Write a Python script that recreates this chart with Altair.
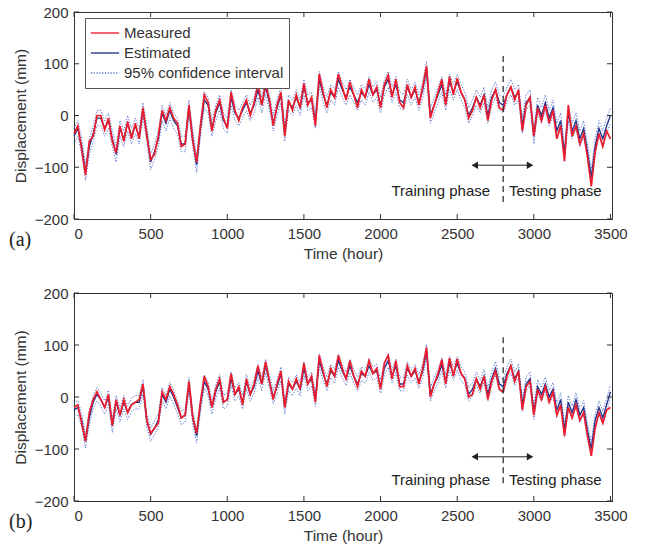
import altair as alt
import pandas as pd

# ---------------- data (25-hour sampling) ----------------
times = list(range(0, 3501, 25))

measured_a = [
    -35, -20, -65, -115, -50, -40, 0, 0, -28, -5, -50, -72, -20, -50, -12, -45, -15, -45, 15, -40,
    -85, -75, -40, 10, -10, 15, -5, -15, -60, -55, 20, -50, -90, -20, 40, 25, -30, 10, 30, -5,
    -25, 45, 10, -10, 15, 30, 0, 25, 60, 20, 62, 30, -20, 20, 45, -40, 30, 10, 40, 15,
    62, 20, 35, -20, 80, 45, 15, 50, 35, 80, 55, 30, 65, 40, 15, 50, 35, 70, 40, 55,
    15, 60, 78, 35, 70, 25, 15, 60, 35, 55, 20, 55, 95, -5, 20, 45, 70, 20, 75, 40,
    72, 45, 30, -5, 10, 35, 15, 40, -10, 30, 50, 15, 10, 40, 55, 30, 50, -30, 20, 35,
    -40, 15, -10, 20, -15, 10, -45, -20, -88, 20, -40, -20, -55, -35, -80, -137, -70, -35, -60, -30,
    -45,
]
estimated_a = [
    -40, -25, -60, -110, -60, -35, -5, -5, -25, -10, -45, -75, -25, -45, -15, -40, -20, -40, 10, -35,
    -90, -70, -45, 5, -15, 10, -10, -20, -55, -55, 15, -45, -95, -25, 30, 20, -25, 5, 25, -10,
    -20, 35, 5, -5, 10, 25, 5, 20, 50, 20, 55, 25, -15, 15, 40, -35, 25, 15, 35, 15,
    55, 25, 30, -10, 70, 40, 20, 45, 35, 70, 50, 35, 55, 40, 25, 45, 35, 60, 40, 50,
    20, 55, 70, 40, 60, 30, 25, 55, 35, 50, 25, 50, 90, 0, 20, 40, 60, 25, 65, 45,
    65, 45, 30, 0, 15, 35, 20, 40, 0, 35, 50, 25, 20, 40, 55, 35, 45, -20, 25, 35,
    -40, 20, 0, 25, -5, 15, -30, -10, -75, 5, -30, -10, -45, -25, -70, -120, -60, -25, -45, -20,
    0,
]
measured_b = [
    -20, -15, -50, -85, -30, -5, 10, -5, -20, 5, -55, -5, -35, -5, -30, -15, -10, -5, 25, -45,
    -70, -60, -50, 10, -5, 20, 5, -15, -40, -35, 30, -40, -70, -10, 40, 20, -20, 15, 35, -10,
    -5, 45, 5, 20, -15, 35, 5, 25, 60, 25, 68, 30, -5, 25, 50, -20, 30, 15, 35, 15,
    65, 25, 40, -10, 80, 50, 20, 55, 40, 80, 55, 35, 70, 40, 20, 50, 40, 70, 45, 55,
    15, 65, 80, 35, 70, 20, 20, 60, 40, 55, 25, 55, 95, 0, 25, 45, 72, 25, 75, 40,
    73, 45, 35, 0, 5, 35, 15, 40, -5, 30, 50, 15, 10, 40, 60, 30, 50, -25, 20, 30,
    -35, 15, -5, 20, -10, 10, -35, -15, -75, -20, -40, -15, -45, -30, -75, -113, -60, -30, -50, -25,
    -20,
]
estimated_b = [
    -25, -20, -45, -85, -40, -10, 5, -5, -20, 0, -55, -10, -35, -10, -30, -15, -10, -10, 20, -45,
    -72, -60, -45, 5, -10, 15, 0, -20, -40, -35, 25, -40, -75, -15, 30, 15, -20, 10, 30, -10,
    -5, 35, 5, 15, -10, 30, 5, 20, 50, 25, 60, 30, 0, 20, 45, -20, 25, 15, 30, 15,
    55, 25, 35, -5, 70, 45, 25, 50, 40, 70, 50, 35, 60, 40, 25, 45, 40, 60, 45, 50,
    20, 55, 70, 40, 60, 25, 25, 55, 40, 50, 30, 50, 88, 5, 25, 40, 62, 30, 65, 45,
    65, 45, 35, 5, 15, 35, 20, 40, 5, 35, 55, 25, 20, 45, 60, 35, 50, -15, 25, 35,
    -30, 20, 5, 25, 0, 15, -25, -5, -65, -10, -30, -5, -35, -20, -65, -100, -45, -20, -40, -15,
    10,
]
ci_half_a = 15   # half-width of the 95% band (mm)
ci_half_b = 13

series_names = ["Measured", "Estimated", "95% confidence interval"]
series_colors = ["#ee1c2a", "#1f3590", "#3f5fc8"]
series_dash = [[1, 0], [1, 0], [1.2, 1.6]]

x_ticks = [0, 500, 1000, 1500, 2000, 2500, 3000, 3500]
y_ticks = [-200, -100, 0, 100, 200]

phase_split = 2800
arrow_ends = [2600, 2990]

FONT = "Liberation Sans"
TXT = "#333333"
W = 538


def panel(measured, estimated, half, H, split_top, split_bottom, arrow_y, text_y, tag):
    df_m = pd.DataFrame({"t": times, "v": measured, "series": "Measured"})
    df_e = pd.DataFrame({"t": times, "v": estimated, "series": "Estimated"})
    df_ci = pd.concat([
        pd.DataFrame({"t": times, "v": [e + half for e in estimated],
                      "series": "95% confidence interval", "bound": "upper"}),
        pd.DataFrame({"t": times, "v": [e - half for e in estimated],
                      "series": "95% confidence interval", "bound": "lower"}),
    ])

    X = alt.X("t:Q", scale=alt.Scale(domain=[0, 3510], nice=False, zero=False),
              axis=alt.Axis(values=x_ticks, title="Time (hour)", format="d"))
    Y = alt.Y("v:Q", scale=alt.Scale(domain=[-200, 200], nice=False),
              axis=alt.Axis(values=y_ticks, title="Displacement (mm)", format="d"))
    leg = alt.Legend(
        title=None, orient="none", legendX=11, legendY=6,
        fillColor="white", strokeColor="#555555", padding=5,
        symbolType="stroke", symbolSize=800, symbolStrokeWidth=1.5,
        labelFont=FONT, labelFontSize=15, labelColor=TXT, labelOffset=4,
        clipHeight=20, rowPadding=0,
    )
    color = alt.Color("series:N", scale=alt.Scale(domain=series_names, range=series_colors), legend=leg)
    dash = alt.StrokeDash("series:N", scale=alt.Scale(domain=series_names, range=series_dash), legend=leg)

    ci = alt.Chart(df_ci).mark_line(strokeWidth=1, opacity=0.9).encode(
        x=X, y=Y, color=color, strokeDash=dash, detail="bound:N")
    est = alt.Chart(df_e).mark_line(strokeWidth=1.4).encode(x=X, y=Y, color=color, strokeDash=dash)
    mea = alt.Chart(df_m).mark_line(strokeWidth=1.7).encode(x=X, y=Y, color=color, strokeDash=dash)

    split = alt.Chart(pd.DataFrame({"t": [phase_split], "v": [split_top], "v2": [split_bottom]})).mark_rule(
        color="#222222", strokeWidth=1.2, strokeDash=[6, 4]).encode(x=X, y=Y, y2="v2:Q")
    arrow = alt.Chart(pd.DataFrame({"t": [arrow_ends[0]], "t2": [arrow_ends[1]], "v": [arrow_y]})).mark_rule(
        color="#222222", strokeWidth=1).encode(x=X, x2="t2:Q", y=Y)
    heads = alt.Chart(pd.DataFrame({
        "t": [arrow_ends[0] + 15, arrow_ends[1] - 15], "v": [arrow_y, arrow_y],
        "shape": ["triangle-left", "triangle-right"]})).mark_point(
        filled=True, color="#222222", size=55, opacity=1).encode(
        x=X, y=Y, shape=alt.Shape("shape:N", scale=None))
    t_train = alt.Chart(pd.DataFrame({"t": [2715], "v": [text_y], "txt": ["Training phase"]})).mark_text(
        align="right", baseline="middle", font=FONT, fontSize=15, color="#222222").encode(x=X, y=Y, text="txt:N")
    t_test = alt.Chart(pd.DataFrame({"t": [2838], "v": [text_y], "txt": ["Testing phase"]})).mark_text(
        align="left", baseline="middle", font=FONT, fontSize=15, color="#222222").encode(x=X, y=Y, text="txt:N")

    xt = pd.DataFrame({"t": x_ticks})
    yt = pd.DataFrame({"v": y_ticks})
    tb = alt.Chart(xt).mark_rule(color="#333333").encode(x=X, y=alt.value(H), y2=alt.value(H - 5))
    tt = alt.Chart(xt).mark_rule(color="#333333").encode(x=X, y=alt.value(0), y2=alt.value(5))
    tl = alt.Chart(yt).mark_rule(color="#333333").encode(y=Y, x=alt.value(0), x2=alt.value(5))
    tr = alt.Chart(yt).mark_rule(color="#333333").encode(y=Y, x=alt.value(W), x2=alt.value(W - 5))

    lab = alt.Chart(pd.DataFrame({"lbl": [tag]})).mark_text(
        align="left", baseline="middle", font="Liberation Serif", fontSize=20, color="#222222").encode(
        text="lbl:N", x=alt.value(-65), y=alt.value(H + 21))

    return alt.layer(ci, est, mea, split, arrow, heads, t_train, t_test, tb, tt, tl, tr, lab).properties(
        width=W, height=H)


pa = panel(measured_a, estimated_a, ci_half_a, 207, 115, -168, -96, -145, "(a)")
pb = panel(measured_b, estimated_b, ci_half_b, 208, 115, -171, -115, -160, "(b)")

chart = alt.vconcat(pa, pb, spacing=23).properties(
    padding={"left": 8, "top": 4, "right": 5, "bottom": 5},
    background="white",
).configure_view(
    stroke="#333333", strokeWidth=1
).configure_axis(
    domainColor="#333333", ticks=False, grid=False,
    labelFont=FONT, labelFontSize=15, labelColor=TXT,
    titleFont=FONT, titleFontSize=15.5, titleColor=TXT, titleFontWeight="normal",
).configure_axisX(
    labelPadding=7, titlePadding=5,
).configure_axisY(
    labelPadding=6, titlePadding=6,
)

chart.save("out.html", embed_options={"renderer": "svg", "actions": False})
